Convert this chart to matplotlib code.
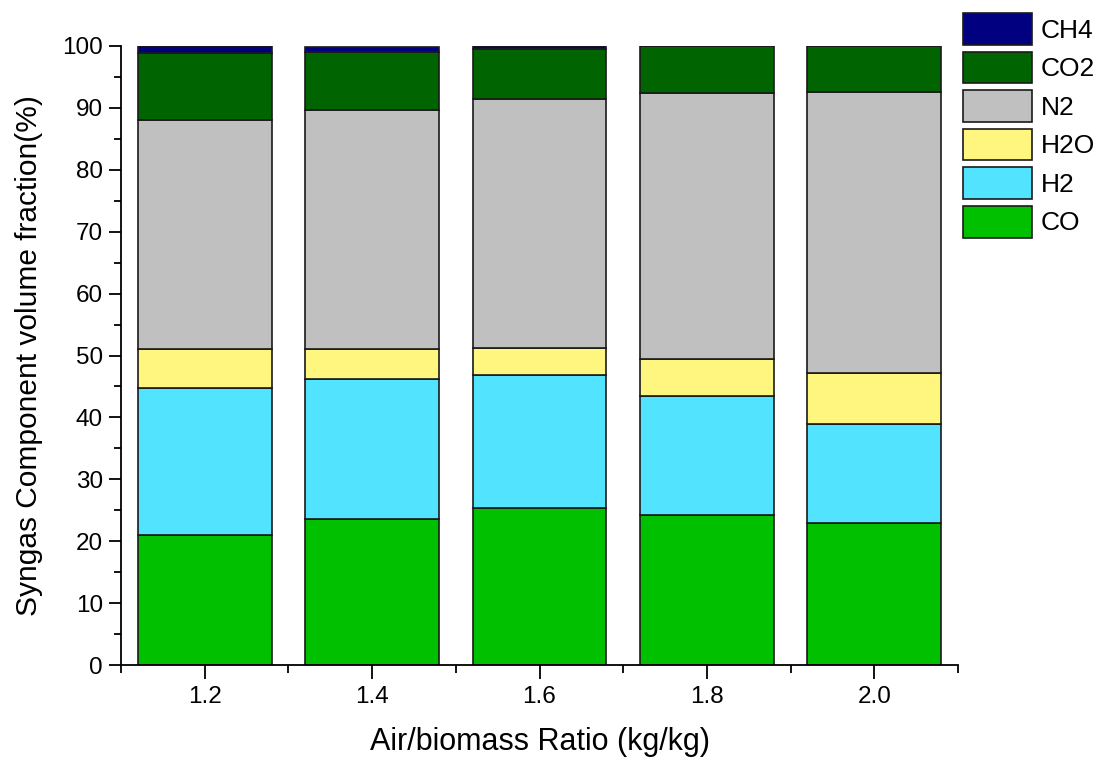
import numpy as np
import matplotlib
matplotlib.use('Agg')
import matplotlib.pyplot as plt
from matplotlib.ticker import MultipleLocator

plt.rcParams['font.family'] = ['Liberation Sans', 'DejaVu Sans']

# air/biomass ratio
ratio = [1.2, 1.4, 1.6, 1.8, 2.0]

# volume fractions (%)
co = [21.0, 23.6, 25.4, 24.3, 23.0]
h2 = [23.8, 22.6, 21.5, 19.1, 15.9]
h2o = [6.3, 4.9, 4.3, 6.1, 8.2]
n2 = [36.9, 38.6, 40.3, 42.9, 45.5]
co2 = [10.9, 9.4, 8.0, 7.6, 7.4]
ch4 = [1.1, 0.8, 0.5, 0.0, 0.0]

series = [('CO', co, '#00C000'),
          ('H2', h2, '#52E4FE'),
          ('H2O', h2o, '#FFF680'),
          ('N2', n2, '#C0C0C0'),
          ('CO2', co2, '#006400'),
          ('CH4', ch4, '#000080')]

fig = plt.figure(figsize=(11.06, 7.61), dpi=100)
ax = fig.add_axes([121/1106, 1 - 665/761, (958-121)/1106, (665-46)/761])

bottom = np.zeros(len(ratio))
handles = []
for name, vals, col in series:
    b = ax.bar(ratio, vals, width=0.16, bottom=bottom, color=col,
               edgecolor='#1a1a1a', linewidth=1.2, label=name)
    handles.append(b)
    bottom += np.array(vals)

ax.set_xlim(1.1, 2.1)
ax.set_ylim(0, 100)
ax.xaxis.set_minor_locator(MultipleLocator(0.1))
ax.yaxis.set_major_locator(MultipleLocator(10))
ax.yaxis.set_minor_locator(MultipleLocator(5))
ax.set_xticks(ratio)
ax.set_xticklabels(['1.2', '1.4', '1.6', '1.8', '2.0'])

for s in ['top', 'right']:
    ax.spines[s].set_visible(False)
for s in ['left', 'bottom']:
    ax.spines[s].set_linewidth(1.3)

ax.tick_params(axis='both', which='major', labelsize=17.5, width=1.3, direction='out')
ax.tick_params(axis='y', which='major', length=9, pad=4)
ax.tick_params(axis='y', which='minor', length=5, width=1.3)
ax.tick_params(axis='x', which='major', length=10, pad=5)
ax.tick_params(axis='x', which='minor', length=6, width=1.3)

ax.set_xlabel('Air/biomass Ratio (kg/kg)', fontsize=22, labelpad=14)
ax.set_ylabel('Syngas Component volume fraction(%)', fontsize=21.5, labelpad=14)

leg = fig.legend(handles[::-1], [s[0] for s in series][::-1],
                 loc='upper left', bbox_to_anchor=(950/1106, 1.0),
                 frameon=False, fontsize=19, handlelength=2.6, handleheight=1.47,
                 labelspacing=0.26, handletextpad=0.35, borderpad=0.0)

fig.savefig('out.png', dpi=100)
